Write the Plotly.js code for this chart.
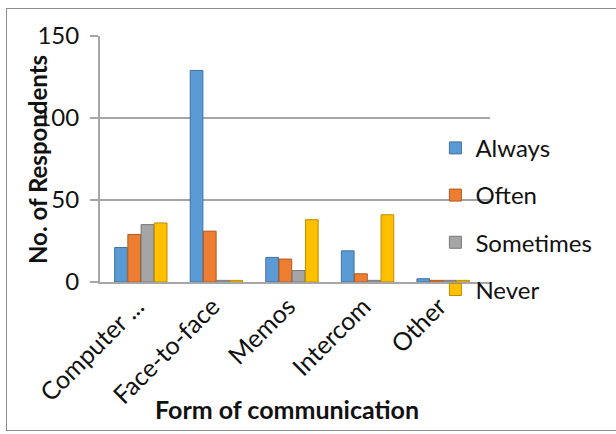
<!DOCTYPE html>
<html>
<head>
<meta charset="utf-8">
<script src="https://cdn.plot.ly/plotly-3.0.1.min.js"></script>
<style>
  html, body { margin: 0; padding: 0; background: #fff; }
  #wrap { position: relative; width: 616px; height: 434px; overflow: hidden; }
  #frame { position: absolute; left: 6px; top: 8px; width: 620px; height: 423px;
           border: 1px solid #8c8c8c; box-sizing: border-box; pointer-events: none; }
  #chart { position: absolute; left: 0; top: 0; width: 616px; height: 434px; }
</style>
</head>
<body>
<div id="wrap">
  <div id="chart"></div>
  <div id="frame"></div>
</div>
<script>
// Forms of communication and how often respondents use them
const categories = ["Computer ...", "Face-to-face", "Memos", "Intercom", "Other"];
const seriesNames = ["Always", "Often", "Sometimes", "Never"];
const always    = [21, 129, 15, 19, 2];
const often     = [29, 31, 14, 5, 1];
const sometimes = [35, 1, 7, 1, 1];
const never     = [36, 1, 38, 41, 1];
const yTicks = [0, 50, 100, 150];

const seriesValues = [always, often, sometimes, never];
const fills = ["#5B9BD5", "#ED7D31", "#A5A5A5", "#FFC000"];
const edges = ["#41719C", "#AE5A21", "#787878", "#BC8C00"];

const font = "Lato, 'Open Sans', 'DejaVu Sans', sans-serif";

const traces = seriesNames.map((name, i) => ({
  type: "bar",
  name: name,
  x: categories,
  y: seriesValues[i],
  legendgroup: name,
  marker: { color: fills[i], line: { color: edges[i], width: 1 } },
  hoverinfo: "x+y+name"
}));

const layout = {
  width: 616,
  height: 434,
  margin: { l: 100, r: 126, t: 36, b: 152 },
  paper_bgcolor: "#fff",
  plot_bgcolor: "rgba(0,0,0,0)",
  barmode: "group",
  bargap: 0.3,
  bargroupgap: 0.04,
  font: { family: font, color: "#000" },
  xaxis: {
    type: "category",
    range: [-0.54, 4.62],
    tickangle: -45,
    tickfont: { size: 25, family: font, color: "#111" },
    ticklabelstandoff: -2,
    ticklabelshift: -4,
    showgrid: false,
    showline: true,
    linecolor: "#a6a6a6",
    linewidth: 2,
    ticks: "",
    zeroline: false,
    automargin: false
  },
  yaxis: {
    range: [0, 150],
    tickvals: yTicks,
    ticktext: yTicks.map(String),
    tickfont: { size: 24, family: font, color: "#111" },
    ticklabelstandoff: 6,
    showgrid: true,
    gridcolor: "#a6a6a6",
    gridwidth: 2,
    showline: true,
    linecolor: "#a6a6a6",
    linewidth: 2,
    ticks: "outside",
    ticklen: 8,
    tickcolor: "#a6a6a6",
    tickwidth: 1.5,
    zeroline: false,
    automargin: false
  },
  legend: {
    x: 0.86,
    xanchor: "left",
    y: 0.635,
    yanchor: "top",
    font: { size: 24, family: font, color: "#111" },
    bgcolor: "rgba(0,0,0,0)",
    tracegroupgap: 13,
    itemwidth: 30
  },
  annotations: [
    {
      text: "<b>No. of Respondents</b>",
      xref: "paper", yref: "paper",
      x: (37 - 100) / 390, y: (282 - 160) / 246,
      xanchor: "center", yanchor: "middle",
      textangle: -90,
      showarrow: false,
      font: { size: 24, family: font, color: "#111" }
    },
    {
      text: "<b>Form of communication</b>",
      xref: "paper", yref: "paper",
      x: (287 - 100) / 390, y: (282 - 409) / 246,
      xanchor: "center", yanchor: "middle",
      showarrow: false,
      font: { size: 25, family: font, color: "#111" }
    }
  ],
  showlegend: true
};

Plotly.newPlot("chart", traces, layout, { staticPlot: true, displayModeBar: false });
</script>
</body>
</html>
